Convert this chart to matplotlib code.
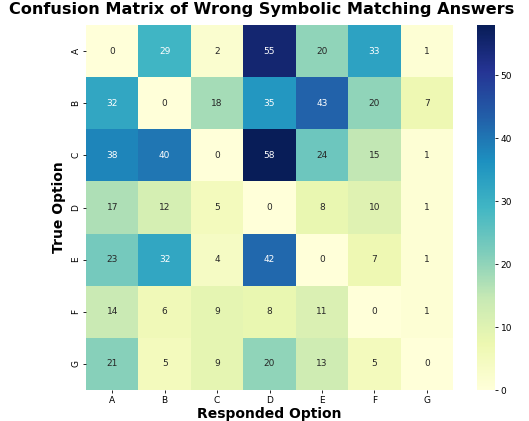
import matplotlib
matplotlib.use("Agg")
import matplotlib.pyplot as plt
import seaborn as sns
import numpy as np

labels = ["A", "B", "C", "D", "E", "F", "G"]
row_A = [0, 29, 2, 55, 20, 33, 1]
row_B = [32, 0, 18, 35, 43, 20, 7]
row_C = [38, 40, 0, 58, 24, 15, 1]
row_D = [17, 12, 5, 0, 8, 10, 1]
row_E = [23, 32, 4, 42, 0, 7, 1]
row_F = [14, 6, 9, 8, 11, 0, 1]
row_G = [21, 5, 9, 20, 13, 5, 0]
matrix = np.array([row_A, row_B, row_C, row_D, row_E, row_F, row_G])

fig = plt.figure(figsize=(5.29, 4.21), dpi=100)
ax = fig.add_axes([0.1626, 0.0736, 0.6938, 0.867])
cax = fig.add_axes([0.9017, 0.0736, 0.034, 0.867])

sns.heatmap(matrix, annot=True, fmt="d", cmap="YlGnBu", ax=ax, cbar_ax=cax,
            xticklabels=labels, yticklabels=labels,
            annot_kws={"fontsize": 6.5})
ax.tick_params(labelsize=6.5, length=2, width=0.6, pad=2)
cax.tick_params(labelsize=6.5, length=2, width=0.6, pad=2)
ax.set_xlabel("Responded Option", fontsize=10, fontweight="bold", labelpad=2)
ax.set_ylabel("True Option", fontsize=10, fontweight="bold", labelpad=4)
fig.suptitle("Confusion Matrix of Wrong Symbolic Matching Answers",
             fontsize=11.6, fontweight="bold", x=0.494, y=0.995, va="top")

fig.savefig("out.png", dpi=100)
